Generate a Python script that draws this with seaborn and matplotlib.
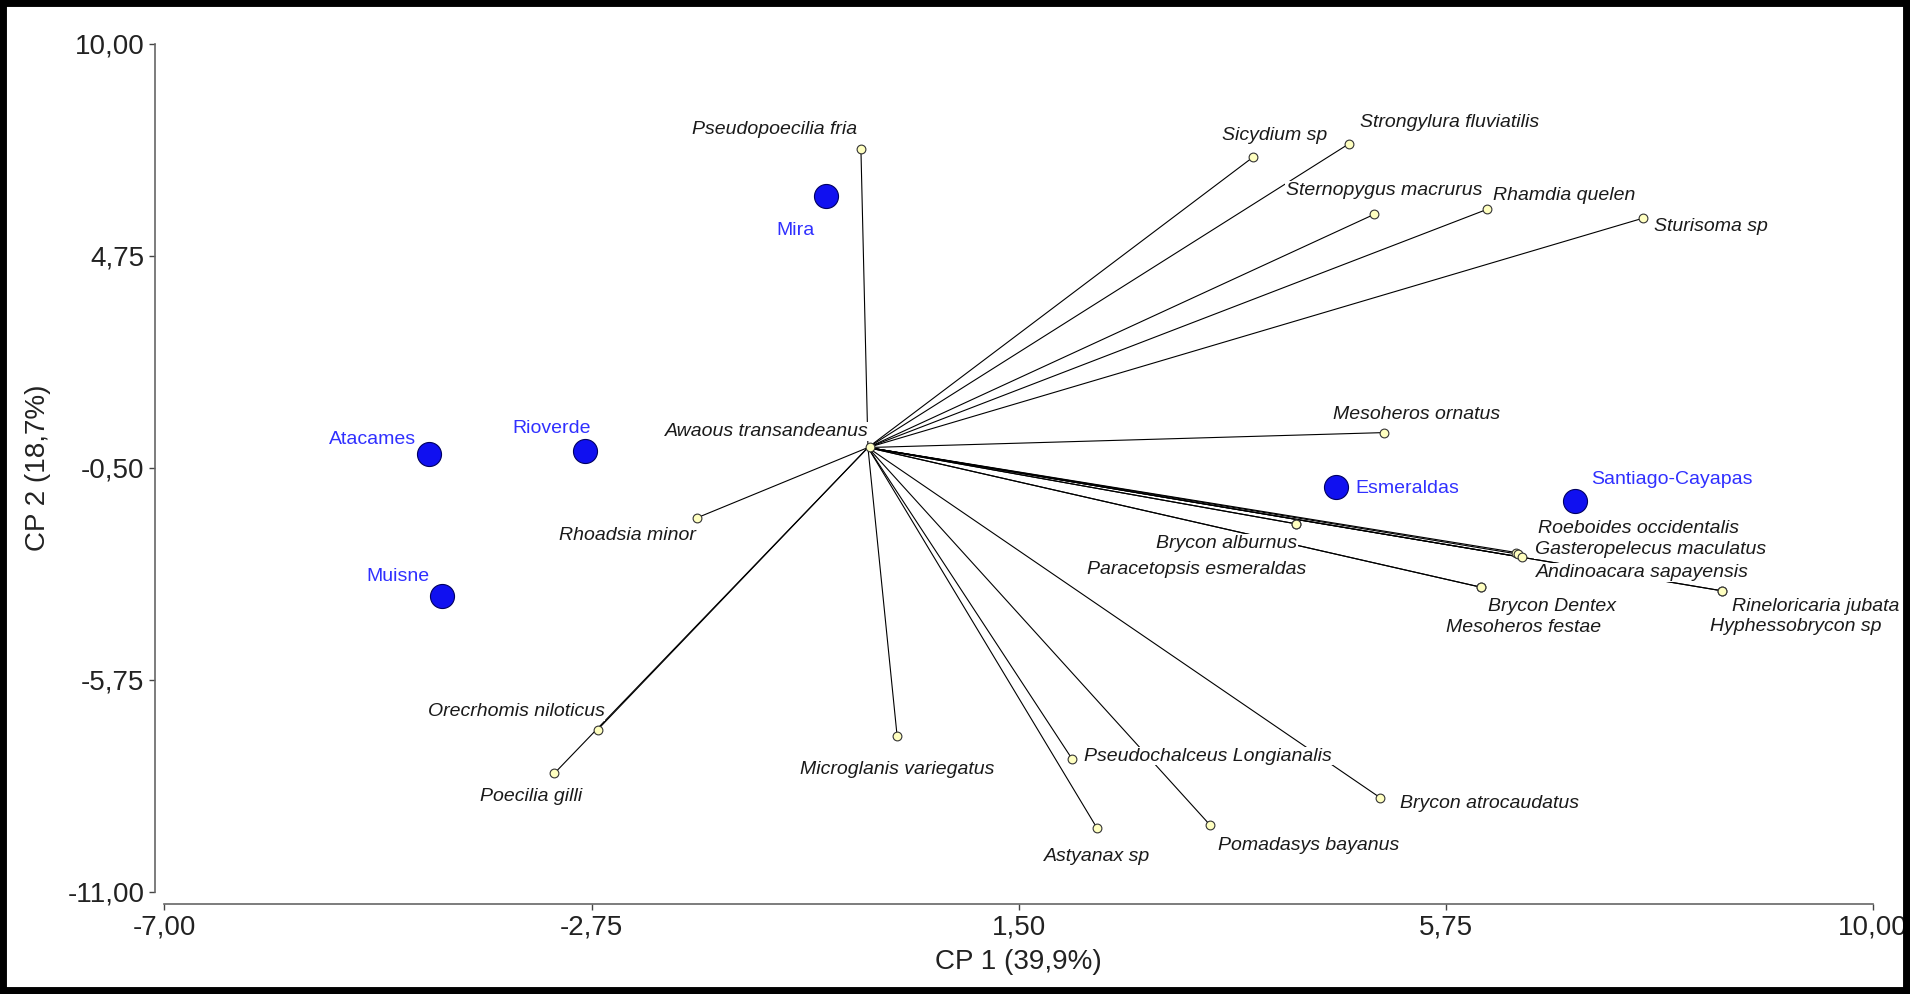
import matplotlib
matplotlib.use("Agg")
import matplotlib.pyplot as plt
from matplotlib.patches import Rectangle
import pandas as pd
import seaborn as sns

# species vectors (CP1, CP2)
species = ["Pseudopoecilia fria", "Sicydium sp", "Strongylura fluviatilis",
           "Sternopygus macrurus", "Rhamdia quelen", "Sturisoma sp",
           "Mesoheros ornatus", "Awaous transandeanus", "Rhoadsia minor",
           "Brycon alburnus", "Paracetopsis esmeraldas", "Roeboides occidentalis",
           "Gasteropelecus maculatus", "Andinoacara sapayensis", "Brycon Dentex",
           "Mesoheros festae", "Rineloricaria jubata", "Hyphessobrycon sp",
           "Orecrhomis niloticus", "Poecilia gilli", "Microglanis variegatus",
           "Pseudochalceus Longianalis", "Astyanax sp", "Pomadasys bayanus",
           "Brycon atrocaudatus"]
species_cp1 = [-0.07, 3.83, 4.79, 5.04, 6.16, 7.71, 5.13, 0.02, -1.70, 4.26, 4.26,
               6.45, 6.47, 6.51, 6.10, 6.10, 8.50, 8.50, -2.69, -3.12, 0.29, 2.03,
               2.28, 3.40, 5.10]
species_cp2 = [7.40, 7.19, 7.53, 5.78, 5.90, 5.68, 0.37, 0.02, -1.74, -1.89, -1.89,
               -2.60, -2.64, -2.72, -3.46, -3.46, -3.55, -3.55, -6.99, -8.07, -7.14,
               -7.71, -9.43, -9.34, -8.68]

# sites
sites = ["Mira", "Atacames", "Rioverde", "Muisne", "Esmeraldas", "Santiago-Cayapas"]
sites_cp1 = [-0.42, -4.37, -2.82, -4.24, 4.66, 7.04]
sites_cp2 = [6.23, -0.17, -0.08, -3.67, -0.98, -1.32]

x_ticks = [-7.00, -2.75, 1.50, 5.75, 10.00]
y_ticks = [-11.00, -5.75, -0.50, 4.75, 10.00]

# label placement: (ha, dx, dy) in points
species_lab = [("right", -3, 14), ("center", 16, 16), ("left", 8, 15), ("center", 7, 17),
               ("left", 4, 10), ("left", 8, -6), ("center", 24, 13), ("right", -1, 11),
               ("right", -1, -13), ("right", 1, -14), ("right", 7, -33), ("left", 16, 17),
               ("left", 12, 3), ("left", 10, -11), ("left", 5, -14), ("left", -25, -29),
               ("left", 7, -11), ("left", -9, -26), ("right", 5, 13), ("center", -17, -17),
               ("center", 0, -24), ("left", 9, 2), ("center", 0, -20), ("left", 6, -15),
               ("left", 14, -4)]
site_lab = [("center", -22, -25), ("right", -9, 11), ("center", -24, 16),
            ("right", -9, 14), ("left", 14, -1), ("left", 11, 15)]

sns.set_style("ticks")
plt.rcParams["font.family"] = ["Liberation Sans", "DejaVu Sans"]

sp_df = pd.DataFrame({"cp1": species_cp1, "cp2": species_cp2, "name": species})
st_df = pd.DataFrame({"cp1": sites_cp1, "cp2": sites_cp2, "name": sites})

fig = plt.figure(figsize=(19.10, 9.94), dpi=100)
ax = fig.add_axes([0.0861, 0.1030, 0.8945, 0.8529])

for x, y in zip(sp_df["cp1"], sp_df["cp2"]):
    ax.plot([0, x], [0, y], color="black", lw=0.8, zorder=1)

sns.scatterplot(data=sp_df, x="cp1", y="cp2", ax=ax, s=40, color="#ffffc0",
                edgecolor="#333333", linewidth=0.8, zorder=5, legend=False)
sns.scatterplot(data=st_df, x="cp1", y="cp2", ax=ax, s=300, color="#1010f0",
                edgecolor="#000060", linewidth=0.8, zorder=5, legend=False)

for (x, y, name), (ha, dx, dy) in zip(sp_df[["cp1", "cp2", "name"]].values, species_lab):
    ax.annotate(name, (x, y), xytext=(dx, dy), textcoords="offset points",
                ha=ha, va="center", fontsize=14, style="italic", color="#1a1a1a",
                bbox=dict(facecolor="white", edgecolor="none", pad=0.5), zorder=3)

for (x, y, name), (ha, dx, dy) in zip(st_df[["cp1", "cp2", "name"]].values, site_lab):
    ax.annotate(name, (x, y), xytext=(dx, dy), textcoords="offset points",
                ha=ha, va="center", fontsize=14, color="#3030ff", zorder=6)

ax.set_xlim(-7, 10)
ax.set_ylim(-11, 10)
ax.set_xticks(x_ticks)
ax.set_yticks(y_ticks)
ax.set_xticklabels([f"{v:.2f}".replace(".", ",") for v in x_ticks])
ax.set_yticklabels([f"{v:.2f}".replace(".", ",") for v in y_ticks])
ax.tick_params(labelsize=20, colors="#444444", labelcolor="#222222", length=4, width=1)
ax.set_xlabel("CP 1 (39,9%)", fontsize=20, color="#222222", labelpad=6)
ax.set_ylabel("CP 2 (18,7%)", fontsize=20, color="#222222", labelpad=12)
sns.despine(ax=ax, offset={"left": 7, "bottom": 9}, trim=True)
for side in ["left", "bottom"]:
    ax.spines[side].set_color("#666666")
    ax.spines[side].set_linewidth(1.2)

fig.patches.append(Rectangle((0, 0), 1, 1, transform=fig.transFigure, fill=False,
                             lw=10, edgecolor="black"))

fig.savefig("out.png", dpi=100)
